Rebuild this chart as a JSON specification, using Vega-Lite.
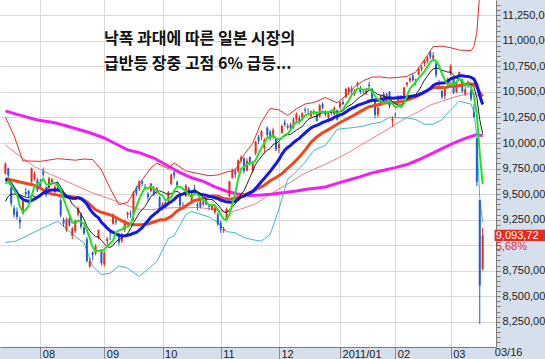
{
"$schema":"https://vega.github.io/schema/vega-lite/v6.json",
"width":496,"height":347,
"autosize":{"type":"none"},
"padding":{"left":0,"top":0,"right":49,"bottom":12},
"background":"#d6e0ec",
"config":{"view":{"fill":"white","stroke":null},"axis":{"labelFont":"Liberation Sans","labelFontSize":11,"labelColor":"#222"}},
"resolve":{"axis":{"x":"independent","y":"independent"}},
"datasets":{
"c":[
{"i":0,"O":9700,"H":9810,"L":9690,"C":9795,"a":9600,"b":9428,"m":9641},
{"i":1,"O":9750,"H":9760,"L":9660,"C":9685,"a":9630,"b":9477,"m":9629},
{"i":2,"O":9560,"H":9570,"L":9380,"C":9408,"a":9595,"b":9498,"m":9600},
{"i":3,"O":9360,"H":9390,"L":9270,"C":9300,"a":9545,"b":9501,"m":9553},
{"i":4,"O":9330,"H":9370,"L":9250,"C":9278,"a":9493,"b":9495,"m":9509},
{"i":5,"O":9250,"H":9280,"L":9160,"C":9220,"a":9378,"b":9489,"m":9474},
{"i":6,"O":9310,"H":9440,"L":9300,"C":9431,"a":9327,"b":9479,"m":9449},
{"i":7,"O":9520,"H":9560,"L":9480,"C":9503,"a":9346,"b":9471,"m":9437},
{"i":8,"O":9530,"H":9545,"L":9460,"C":9496,"a":9386,"b":9465,"m":9428},
{"i":9,"O":9620,"H":9760,"L":9610,"C":9753,"a":9481,"b":9487,"m":9437},
{"i":10,"O":9650,"H":9720,"L":9630,"C":9696,"a":9576,"b":9477,"m":9452},
{"i":11,"O":9640,"H":9660,"L":9520,"C":9537,"a":9597,"b":9462,"m":9470},
{"i":12,"O":9620,"H":9650,"L":9550,"C":9570,"a":9610,"b":9478,"m":9488},
{"i":13,"O":9720,"H":9760,"L":9670,"C":9694,"a":9650,"b":9518,"m":9510},
{"i":14,"O":9560,"H":9580,"L":9470,"C":9489,"a":9597,"b":9539,"m":9517},
{"i":15,"O":9560,"H":9670,"L":9540,"C":9653,"a":9589,"b":9582,"m":9536},
{"i":16,"O":9610,"H":9660,"L":9590,"C":9642,"a":9610,"b":9603,"m":9541},
{"i":17,"O":9520,"H":9590,"L":9500,"C":9572,"a":9610,"b":9610,"m":9541},
{"i":18,"O":9590,"H":9620,"L":9530,"C":9551,"a":9581,"b":9616,"m":9541},
{"i":19,"O":9440,"H":9460,"L":9270,"C":9292,"a":9542,"b":9570,"m":9529},
{"i":20,"O":9250,"H":9270,"L":9180,"C":9212,"a":9454,"b":9521,"m":9499},
{"i":21,"O":9150,"H":9270,"L":9130,"C":9253,"a":9376,"b":9493,"m":9478},
{"i":22,"O":9260,"H":9280,"L":9180,"C":9196,"a":9301,"b":9455,"m":9467},
{"i":23,"O":9090,"H":9180,"L":9060,"C":9161,"a":9223,"b":9402,"m":9460},
{"i":24,"O":9140,"H":9250,"L":9120,"C":9240,"a":9212,"b":9377,"m":9458},
{"i":25,"O":9300,"H":9380,"L":9280,"C":9362,"a":9242,"b":9348,"m":9465},
{"i":26,"O":9300,"H":9320,"L":9160,"C":9179,"a":9228,"b":9302,"m":9453},
{"i":27,"O":9170,"H":9190,"L":9100,"C":9116,"a":9212,"b":9256,"m":9433},
{"i":28,"O":9060,"H":9080,"L":8830,"C":8845,"a":9148,"b":9186,"m":9401},
{"i":29,"O":8790,"H":8880,"L":8780,"C":8845,"a":9069,"b":9141,"m":9356},
{"i":30,"O":8930,"H":8940,"L":8850,"C":8906,"a":8978,"b":9110,"m":9316},
{"i":31,"O":8920,"H":9010,"L":8900,"C":8991,"a":8941,"b":9084,"m":9289},
{"i":32,"O":9070,"H":9150,"L":9060,"C":9149,"a":8947,"b":9079,"m":9267},
{"i":33,"O":8950,"H":8960,"L":8800,"C":8824,"a":8943,"b":9046,"m":9224},
{"i":34,"O":8810,"H":8940,"L":8790,"C":8927,"a":8959,"b":9014,"m":9196},
{"i":35,"O":9040,"H":9080,"L":9000,"C":9062,"a":8991,"b":8984,"m":9166},
{"i":36,"O":9120,"H":9130,"L":9050,"C":9114,"a":9015,"b":8978,"m":9140},
{"i":37,"O":9210,"H":9310,"L":9200,"C":9301,"a":9046,"b":8996,"m":9126},
{"i":38,"O":9240,"H":9270,"L":9200,"C":9226,"a":9126,"b":9035,"m":9111},
{"i":39,"O":9110,"H":9120,"L":9000,"C":9024,"a":9145,"b":9052,"m":9097},
{"i":40,"O":9040,"H":9120,"L":9020,"C":9098,"a":9153,"b":9072,"m":9091},
{"i":41,"O":9150,"H":9250,"L":9130,"C":9239,"a":9178,"b":9096,"m":9090},
{"i":42,"O":9300,"H":9330,"L":9260,"C":9321,"a":9182,"b":9114,"m":9097},
{"i":43,"O":9310,"H":9340,"L":9270,"C":9299,"a":9196,"b":9161,"m":9104},
{"i":44,"O":9300,"H":9530,"L":9240,"C":9516,"a":9295,"b":9220,"m":9117},
{"i":45,"O":9560,"H":9580,"L":9480,"C":9509,"a":9377,"b":9265,"m":9125},
{"i":46,"O":9550,"H":9630,"L":9530,"C":9626,"a":9454,"b":9316,"m":9147},
{"i":47,"O":9620,"H":9640,"L":9580,"C":9602,"a":9510,"b":9346,"m":9171},
{"i":48,"O":9570,"H":9600,"L":9540,"C":9566,"a":9564,"b":9380,"m":9208},
{"i":49,"O":9500,"H":9520,"L":9430,"C":9471,"a":9555,"b":9425,"m":9239},
{"i":50,"O":9530,"H":9610,"L":9520,"C":9603,"a":9574,"b":9475,"m":9274},
{"i":51,"O":9550,"H":9580,"L":9480,"C":9495,"a":9547,"b":9501,"m":9299},
{"i":52,"O":9530,"H":9570,"L":9500,"C":9559,"a":9539,"b":9525,"m":9320},
{"i":53,"O":9470,"H":9480,"L":9350,"C":9369,"a":9499,"b":9532,"m":9347},
{"i":54,"O":9380,"H":9420,"L":9340,"C":9404,"a":9486,"b":9520,"m":9370},
{"i":55,"O":9420,"H":9430,"L":9360,"C":9381,"a":9442,"b":9508,"m":9387},
{"i":56,"O":9430,"H":9530,"L":9400,"C":9518,"a":9446,"b":9497,"m":9407},
{"i":57,"O":9600,"H":9700,"L":9590,"C":9691,"a":9473,"b":9506,"m":9426},
{"i":58,"O":9710,"H":9730,"L":9650,"C":9684,"a":9536,"b":9518,"m":9449},
{"i":59,"O":9620,"H":9630,"L":9560,"C":9588,"a":9572,"b":9529,"m":9477},
{"i":60,"O":9500,"H":9510,"L":9350,"C":9388,"a":9574,"b":9508,"m":9492},
{"i":61,"O":9400,"H":9420,"L":9350,"C":9403,"a":9551,"b":9499,"m":9500},
{"i":62,"O":9480,"H":9600,"L":9470,"C":9583,"a":9529,"b":9501,"m":9513},
{"i":63,"O":9560,"H":9570,"L":9480,"C":9500,"a":9492,"b":9514,"m":9523},
{"i":64,"O":9430,"H":9510,"L":9420,"C":9498,"a":9474,"b":9523,"m":9522},
{"i":65,"O":9550,"H":9590,"L":9520,"C":9539,"a":9505,"b":9539,"m":9524},
{"i":66,"O":9400,"H":9420,"L":9340,"C":9381,"a":9500,"b":9526,"m":9512},
{"i":67,"O":9430,"H":9450,"L":9360,"C":9376,"a":9459,"b":9494,"m":9500},
{"i":68,"O":9400,"H":9440,"L":9380,"C":9426,"a":9444,"b":9468,"m":9493},
{"i":69,"O":9470,"H":9490,"L":9390,"C":9401,"a":9425,"b":9450,"m":9490},
{"i":70,"O":9390,"H":9400,"L":9340,"C":9377,"a":9392,"b":9448,"m":9478},
{"i":71,"O":9350,"H":9400,"L":9340,"C":9387,"a":9393,"b":9447,"m":9473},
{"i":72,"O":9320,"H":9390,"L":9300,"C":9366,"a":9391,"b":9425,"m":9463},
{"i":73,"O":9300,"H":9320,"L":9190,"C":9202,"a":9347,"b":9395,"m":9455},
{"i":74,"O":9220,"H":9240,"L":9120,"C":9154,"a":9297,"b":9361,"m":9442},
{"i":75,"O":9140,"H":9180,"L":9120,"C":9159,"a":9254,"b":9323,"m":9431},
{"i":76,"O":9250,"H":9370,"L":9240,"C":9358,"a":9248,"b":9321,"m":9424},
{"i":77,"O":9480,"H":9630,"L":9470,"C":9625,"a":9300,"b":9346,"m":9420},
{"i":78,"O":9660,"H":9750,"L":9650,"C":9732,"a":9406,"b":9376,"m":9422},
{"i":79,"O":9720,"H":9750,"L":9660,"C":9694,"a":9514,"b":9405,"m":9428},
{"i":80,"O":9720,"H":9840,"L":9710,"C":9830,"a":9648,"b":9451,"m":9450},
{"i":81,"O":9830,"H":9880,"L":9800,"C":9861,"a":9748,"b":9498,"m":9473},
{"i":82,"O":9850,"H":9860,"L":9700,"C":9724,"a":9768,"b":9534,"m":9480},
{"i":83,"O":9730,"H":9850,"L":9720,"C":9827,"a":9787,"b":9596,"m":9496},
{"i":84,"O":9860,"H":9870,"L":9780,"C":9797,"a":9808,"b":9661,"m":9511},
{"i":85,"O":9730,"H":9820,"L":9710,"C":9811,"a":9804,"b":9726,"m":9525},
{"i":86,"O":9900,"H":10020,"L":9880,"C":10013,"a":9834,"b":9791,"m":9556},
{"i":87,"O":10060,"H":10080,"L":9990,"C":10022,"a":9894,"b":9831,"m":9589},
{"i":88,"O":10060,"H":10130,"L":10030,"C":10115,"a":9952,"b":9869,"m":9623},
{"i":89,"O":9950,"H":10050,"L":9900,"C":10030,"a":9998,"b":9903,"m":9654},
{"i":90,"O":10150,"H":10160,"L":10060,"C":10079,"a":10052,"b":9928,"m":9690},
{"i":91,"O":10110,"H":10130,"L":10020,"C":10039,"a":10057,"b":9946,"m":9722},
{"i":92,"O":10060,"H":10150,"L":10040,"C":10125,"a":10078,"b":9986,"m":9760},
{"i":93,"O":10040,"H":10050,"L":9920,"C":9937,"a":10042,"b":9997,"m":9797},
{"i":94,"O":9950,"H":10010,"L":9900,"C":9988,"a":10034,"b":10016,"m":9839},
{"i":95,"O":10100,"H":10180,"L":10090,"C":10168,"a":10051,"b":10052,"m":9889},
{"i":96,"O":10200,"H":10230,"L":10160,"C":10178,"a":10079,"b":10068,"m":9930},
{"i":97,"O":10150,"H":10190,"L":10130,"C":10167,"a":10088,"b":10083,"m":9957},
{"i":98,"O":10180,"H":10200,"L":10120,"C":10141,"a":10128,"b":10085,"m":9977},
{"i":99,"O":10160,"H":10250,"L":10140,"C":10232,"a":10177,"b":10105,"m":10004},
{"i":100,"O":10230,"H":10300,"L":10200,"C":10285,"a":10201,"b":10126,"m":10027},
{"i":101,"O":10240,"H":10270,"L":10190,"C":10212,"a":10207,"b":10143,"m":10045},
{"i":102,"O":10250,"H":10300,"L":10230,"C":10293,"a":10233,"b":10160,"m":10073},
{"i":103,"O":10330,"H":10350,"L":10290,"C":10316,"a":10268,"b":10198,"m":10098},
{"i":104,"O":10310,"H":10340,"L":10280,"C":10309,"a":10283,"b":10230,"m":10123},
{"i":105,"O":10260,"H":10320,"L":10250,"C":10311,"a":10288,"b":10244,"m":10148},
{"i":106,"O":10300,"H":10330,"L":10270,"C":10304,"a":10307,"b":10257,"m":10163},
{"i":107,"O":10300,"H":10310,"L":10210,"C":10216,"a":10291,"b":10262,"m":10173},
{"i":108,"O":10260,"H":10380,"L":10250,"C":10370,"a":10302,"b":10285,"m":10185},
{"i":109,"O":10380,"H":10400,"L":10330,"C":10346,"a":10309,"b":10296,"m":10201},
{"i":110,"O":10310,"H":10320,"L":10260,"C":10279,"a":10303,"b":10296,"m":10211},
{"i":111,"O":10250,"H":10300,"L":10200,"C":10292,"a":10301,"b":10304,"m":10224},
{"i":112,"O":10320,"H":10330,"L":10270,"C":10292,"a":10316,"b":10304,"m":10232},
{"i":113,"O":10280,"H":10360,"L":10270,"C":10344,"a":10311,"b":10306,"m":10252},
{"i":114,"O":10320,"H":10330,"L":10220,"C":10229,"a":10287,"b":10298,"m":10264},
{"i":115,"O":10350,"H":10410,"L":10330,"C":10398,"a":10311,"b":10307,"m":10276},
{"i":116,"O":10400,"H":10430,"L":10370,"C":10380,"a":10329,"b":10315,"m":10286},
{"i":117,"O":10450,"H":10540,"L":10440,"C":10529,"a":10376,"b":10346,"m":10304},
{"i":118,"O":10500,"H":10550,"L":10470,"C":10541,"a":10415,"b":10363,"m":10324},
{"i":119,"O":10530,"H":10560,"L":10480,"C":10510,"a":10472,"b":10379,"m":10338},
{"i":120,"O":10480,"H":10530,"L":10460,"C":10512,"a":10494,"b":10403,"m":10350},
{"i":121,"O":10570,"H":10600,"L":10550,"C":10589,"a":10536,"b":10432,"m":10368},
{"i":122,"O":10530,"H":10560,"L":10480,"C":10499,"a":10530,"b":10453,"m":10379},
{"i":123,"O":10500,"H":10520,"L":10470,"C":10502,"a":10522,"b":10469,"m":10388},
{"i":124,"O":10480,"H":10540,"L":10470,"C":10518,"a":10524,"b":10498,"m":10398},
{"i":125,"O":10570,"H":10600,"L":10520,"C":10557,"a":10533,"b":10514,"m":10411},
{"i":126,"O":10530,"H":10540,"L":10420,"C":10437,"a":10503,"b":10519,"m":10417},
{"i":127,"O":10410,"H":10420,"L":10240,"C":10274,"a":10458,"b":10494,"m":10420},
{"i":128,"O":10280,"H":10360,"L":10250,"C":10345,"a":10426,"b":10474,"m":10419},
{"i":129,"O":10380,"H":10470,"L":10360,"C":10464,"a":10415,"b":10470,"m":10425},
{"i":130,"O":10480,"H":10500,"L":10390,"C":10401,"a":10384,"b":10459,"m":10431},
{"i":131,"O":10400,"H":10490,"L":10390,"C":10478,"a":10392,"b":10448,"m":10440},
{"i":132,"O":10500,"H":10510,"L":10340,"C":10360,"a":10410,"b":10434,"m":10444},
{"i":133,"O":10220,"H":10260,"L":10160,"C":10238,"a":10388,"b":10407,"m":10438},
{"i":134,"O":10280,"H":10300,"L":10250,"C":10274,"a":10350,"b":10383,"m":10441},
{"i":135,"O":10400,"H":10470,"L":10390,"C":10457,"a":10361,"b":10373,"m":10444},
{"i":136,"O":10450,"H":10470,"L":10410,"C":10431,"a":10352,"b":10372,"m":10446},
{"i":137,"O":10460,"H":10550,"L":10440,"C":10543,"a":10389,"b":10399,"m":10447},
{"i":138,"O":10570,"H":10600,"L":10550,"C":10592,"a":10459,"b":10424,"m":10449},
{"i":139,"O":10610,"H":10650,"L":10590,"C":10635,"a":10532,"b":10441,"m":10456},
{"i":140,"O":10660,"H":10680,"L":10600,"C":10617,"a":10564,"b":10463,"m":10461},
{"i":141,"O":10620,"H":10630,"L":10560,"C":10606,"a":10599,"b":10475,"m":10462},
{"i":142,"O":10670,"H":10740,"L":10660,"C":10725,"a":10635,"b":10512,"m":10473},
{"i":143,"O":10720,"H":10760,"L":10700,"C":10746,"a":10666,"b":10563,"m":10485},
{"i":144,"O":10780,"H":10820,"L":10750,"C":10808,"a":10700,"b":10616,"m":10500},
{"i":145,"O":10800,"H":10850,"L":10780,"C":10836,"a":10744,"b":10654,"m":10514},
{"i":146,"O":10890,"H":10900,"L":10820,"C":10842,"a":10791,"b":10695,"m":10534},
{"i":147,"O":10830,"H":10890,"L":10800,"C":10858,"a":10818,"b":10727,"m":10563},
{"i":148,"O":10780,"H":10790,"L":10640,"C":10665,"a":10802,"b":10734,"m":10579},
{"i":149,"O":10590,"H":10620,"L":10550,"C":10579,"a":10756,"b":10728,"m":10585},
{"i":150,"O":10510,"H":10520,"L":10430,"C":10452,"a":10679,"b":10712,"m":10588},
{"i":151,"O":10460,"H":10540,"L":10430,"C":10527,"a":10616,"b":10704,"m":10590},
{"i":152,"O":10570,"H":10640,"L":10550,"C":10624,"a":10569,"b":10694,"m":10603},
{"i":153,"O":10680,"H":10770,"L":10660,"C":10754,"a":10587,"b":10695,"m":10629},
{"i":154,"O":10640,"H":10650,"L":10480,"C":10492,"a":10570,"b":10663,"m":10640},
{"i":155,"O":10500,"H":10600,"L":10490,"C":10586,"a":10597,"b":10638,"m":10646},
{"i":156,"O":10650,"H":10700,"L":10620,"C":10693,"a":10630,"b":10623,"m":10659},
{"i":157,"O":10620,"H":10630,"L":10490,"C":10505,"a":10606,"b":10588,"m":10658},
{"i":158,"O":10480,"H":10550,"L":10460,"C":10525,"a":10560,"b":10574,"m":10654},
{"i":159,"O":10600,"H":10610,"L":10540,"C":10589,"a":10580,"b":10575,"m":10652},
{"i":160,"O":10520,"H":10530,"L":10410,"C":10434,"a":10549,"b":10573,"m":10643},
{"i":161,"O":10300,"H":10380,"L":10250,"C":10254,"a":10461,"b":10546,"m":10625},
{"i":162,"O":10044,"H":10049,"L":9578,"C":9620,"a":10284,"b":10445,"m":10570},
{"i":163,"O":9441,"H":9441,"L":8227,"C":8605,"a":9900,"b":10230,"m":10463},
{"i":164,"O":8770,"H":9170,"L":8750,"C":9094,"a":9601,"b":10091,"m":10377}
],
"m30":[{"i":0,"v":9652},{"i":5,"v":9619},{"i":10,"v":9586},{"i":12,"v":9559},{"i":14,"v":9519},{"i":16,"v":9500},{"i":18,"v":9490},{"i":20,"v":9475},{"i":22,"v":9477},{"i":24,"v":9470},{"i":26,"v":9461},{"i":28,"v":9422},{"i":29,"v":9399},{"i":31,"v":9346},{"i":33,"v":9322},{"i":35,"v":9305},{"i":37,"v":9287},{"i":39,"v":9254},{"i":41,"v":9224},{"i":43,"v":9203},{"i":45,"v":9199},{"i":47,"v":9199},{"i":49,"v":9206},{"i":51,"v":9227},{"i":53,"v":9246},{"i":55,"v":9252},{"i":57,"v":9283},{"i":59,"v":9335},{"i":61,"v":9365},{"i":63,"v":9402},{"i":65,"v":9437},{"i":67,"v":9449},{"i":69,"v":9468},{"i":71,"v":9482},{"i":73,"v":9480},{"i":75,"v":9457},{"i":77,"v":9449},{"i":79,"v":9461},{"i":81,"v":9481},{"i":83,"v":9502},{"i":85,"v":9529},{"i":87,"v":9557},{"i":89,"v":9586},{"i":91,"v":9630},{"i":93,"v":9663},{"i":95,"v":9700},{"i":97,"v":9753},{"i":99,"v":9804},{"i":101,"v":9862},{"i":103,"v":9930},{"i":105,"v":10007},{"i":107,"v":10059},{"i":109,"v":10101},{"i":111,"v":10131},{"i":113,"v":10167},{"i":115,"v":10201},{"i":117,"v":10230},{"i":119,"v":10260},{"i":121,"v":10293},{"i":123,"v":10324},{"i":125,"v":10355},{"i":127,"v":10367},{"i":129,"v":10382},{"i":131,"v":10395},{"i":133,"v":10394},{"i":135,"v":10398},{"i":137,"v":10413},{"i":139,"v":10430},{"i":141,"v":10452},{"i":143,"v":10480},{"i":145,"v":10514},{"i":147,"v":10540},{"i":149,"v":10546},{"i":151,"v":10542},{"i":153,"v":10555},{"i":155,"v":10555},{"i":157,"v":10571},{"i":159,"v":10581},{"i":161,"v":10575},{"i":162,"v":10550},{"i":163,"v":10496},{"i":164,"v":10457}],
"m60":[{"i":0,"v":9980},{"i":5,"v":9870},{"i":10,"v":9770},{"i":15,"v":9700},{"i":20,"v":9640},{"i":25,"v":9573},{"i":30,"v":9511},{"i":35,"v":9462},{"i":40,"v":9410},{"i":45,"v":9354},{"i":50,"v":9347},{"i":54,"v":9361},{"i":58,"v":9367},{"i":62,"v":9365},{"i":66,"v":9370},{"i":70,"v":9356},{"i":74,"v":9336},{"i":78,"v":9327},{"i":82,"v":9363},{"i":86,"v":9405},{"i":90,"v":9480},{"i":94,"v":9550},{"i":98,"v":9616},{"i":102,"v":9689},{"i":106,"v":9743},{"i":110,"v":9793},{"i":114,"v":9848},{"i":118,"v":9908},{"i":122,"v":9977},{"i":126,"v":10045},{"i":130,"v":10111},{"i":134,"v":10181},{"i":138,"v":10250},{"i":142,"v":10308},{"i":146,"v":10371},{"i":150,"v":10410},{"i":154,"v":10448},{"i":158,"v":10476},{"i":160,"v":10484},{"i":162,"v":10474},{"i":164,"v":10425}],
"m120":[{"i":0,"v":10315},{"i":4,"v":10280},{"i":11,"v":10225},{"i":17,"v":10198},{"i":22,"v":10159},{"i":29,"v":10100},{"i":34,"v":10049},{"i":38,"v":9990},{"i":42,"v":9932},{"i":46,"v":9905},{"i":51,"v":9853},{"i":55,"v":9790},{"i":60,"v":9710},{"i":64,"v":9660},{"i":68,"v":9625},{"i":72,"v":9570},{"i":76,"v":9528},{"i":80,"v":9500},{"i":84,"v":9486},{"i":88,"v":9490},{"i":92,"v":9500},{"i":96,"v":9515},{"i":100,"v":9531},{"i":104,"v":9550},{"i":108,"v":9562},{"i":110,"v":9570},{"i":114,"v":9605},{"i":118,"v":9638},{"i":122,"v":9671},{"i":126,"v":9708},{"i":130,"v":9734},{"i":134,"v":9759},{"i":138,"v":9789},{"i":142,"v":9836},{"i":146,"v":9888},{"i":150,"v":9945},{"i":154,"v":9999},{"i":158,"v":10046},{"i":162,"v":10082},{"i":164,"v":10071}],
"bbu":[{"i":0,"v":10255},{"i":3,"v":10071},{"i":6,"v":9826},{"i":12,"v":9820},{"i":18,"v":9847},{"i":24,"v":9832},{"i":27,"v":9843},{"i":30,"v":9838},{"i":33,"v":9736},{"i":36,"v":9556},{"i":39,"v":9397},{"i":42,"v":9419},{"i":46,"v":9601},{"i":50,"v":9757},{"i":52,"v":9802},{"i":56,"v":9749},{"i":58,"v":9805},{"i":62,"v":9727},{"i":64,"v":9714},{"i":70,"v":9680},{"i":73,"v":9687},{"i":76,"v":9716},{"i":79,"v":9734},{"i":82,"v":9886},{"i":85,"v":9997},{"i":88,"v":10207},{"i":91,"v":10338},{"i":94,"v":10325},{"i":97,"v":10269},{"i":100,"v":10335},{"i":103,"v":10382},{"i":106,"v":10397},{"i":110,"v":10445},{"i":114,"v":10394},{"i":117,"v":10464},{"i":120,"v":10548},{"i":123,"v":10610},{"i":126,"v":10645},{"i":129,"v":10647},{"i":132,"v":10636},{"i":135,"v":10642},{"i":138,"v":10653},{"i":141,"v":10694},{"i":144,"v":10816},{"i":147,"v":10943},{"i":150,"v":10948},{"i":153,"v":10933},{"i":156,"v":10909},{"i":160,"v":10905},{"i":161,"v":10945},{"i":162,"v":11082},{"i":163,"v":11465},{"i":164,"v":11529}],
"bbl":[{"i":0,"v":9027},{"i":3,"v":9035},{"i":6,"v":9072},{"i":12,"v":9156},{"i":18,"v":9235},{"i":24,"v":9084},{"i":27,"v":9023},{"i":30,"v":8794},{"i":33,"v":8712},{"i":36,"v":8724},{"i":39,"v":8797},{"i":42,"v":8775},{"i":46,"v":8693},{"i":50,"v":8790},{"i":52,"v":8838},{"i":56,"v":9065},{"i":58,"v":9093},{"i":62,"v":9299},{"i":64,"v":9330},{"i":70,"v":9276},{"i":73,"v":9223},{"i":76,"v":9132},{"i":79,"v":9122},{"i":82,"v":9074},{"i":85,"v":9053},{"i":88,"v":9039},{"i":91,"v":9106},{"i":94,"v":9353},{"i":97,"v":9645},{"i":100,"v":9719},{"i":103,"v":9814},{"i":106,"v":9929},{"i":110,"v":9977},{"i":114,"v":10134},{"i":117,"v":10144},{"i":120,"v":10152},{"i":123,"v":10166},{"i":126,"v":10189},{"i":129,"v":10203},{"i":132,"v":10252},{"i":135,"v":10246},{"i":138,"v":10245},{"i":141,"v":10230},{"i":144,"v":10184},{"i":147,"v":10183},{"i":150,"v":10228},{"i":153,"v":10325},{"i":156,"v":10409},{"i":160,"v":10381},{"i":161,"v":10305},{"i":162,"v":10058},{"i":163,"v":9461},{"i":164,"v":9225}],
"one":[{"k":1}]
},
"layer":[
{"data":{"name":"m60"},"mark":{"type":"line","color":"#f27b88","strokeWidth":1},
 "encoding":{"x":{"field":"i","type":"quantitative","scale":{"domain":[-0.13,166.87],"nice":false,"zero":false},
   "axis":{"values":[12,34,54,74,94,115,134,153],"title":null,"grid":true,"gridColor":"#d9d9d9","domainColor":"#7a7a7a","tickColor":"#8a8a8a","tickSize":12,"labelAlign":"left","labelBaseline":"top","labelPadding":-11,"labelOffset":2,"labelOverlap":false,
   "labelExpr":"datum.value==12?'08':datum.value==34?'09':datum.value==54?'10':datum.value==74?'11':datum.value==94?'12':datum.value==115?'2011/01':datum.value==134?'02':'03'"}},
  "y":{"field":"v","type":"quantitative","scale":{"domain":[8003,11400],"nice":false,"zero":false},
   "axis":{"orient":"right","title":null,"labelOverlap":false,
   "values":[8050,8100,8150,8200,8250,8300,8350,8400,8450,8500,8550,8600,8650,8700,8750,8800,8850,8900,8950,9000,9050,9100,9150,9200,9250,9300,9350,9400,9450,9500,9550,9600,9650,9700,9750,9800,9850,9900,9950,10000,10050,10100,10150,10200,10250,10300,10350,10400,10450,10500,10550,10600,10650,10700,10750,10800,10850,10900,10950,11000,11050,11100,11150,11200,11250,11300,11350],
   "grid":true,"gridColor":{"condition":{"test":"datum.value % 250 === 0","value":"#d9d9d9"},"value":"transparent"},
   "domainColor":"#7a7a7a","tickColor":"#7a7a7a","tickSize":4,
   "labelPadding":2,
   "labelExpr":"(datum.value % 250 !== 0 || datum.value == 9000) ? '' : replace(format(datum.value,',.2f'),'.',',')"}}}},
{"data":{"name":"m120"},"mark":{"type":"line","color":"#f21ef2","strokeWidth":3},
 "encoding":{"x":{"field":"i","type":"quantitative","axis":null},"y":{"field":"v","type":"quantitative","axis":null}}},
{"data":{"name":"bbu"},"mark":{"type":"line","color":"#e82a2a","strokeWidth":1},
 "encoding":{"x":{"field":"i","type":"quantitative","axis":null},"y":{"field":"v","type":"quantitative","axis":null}}},
{"data":{"name":"bbl"},"mark":{"type":"line","color":"#3cb9c9","strokeWidth":1},
 "encoding":{"x":{"field":"i","type":"quantitative","axis":null},"y":{"field":"v","type":"quantitative","axis":null}}},
{"data":{"name":"c"},"mark":{"type":"rule","strokeWidth":1},
 "encoding":{"x":{"field":"i","type":"quantitative","axis":null},"y":{"field":"L","type":"quantitative","axis":null},"y2":{"field":"H"},
  "color":{"condition":{"test":"datum.C>=datum.O","value":"#e8291c"},"value":"#1f5fcf"}}},
{"data":{"name":"c"},"mark":{"type":"bar","width":2},
 "encoding":{"x":{"field":"i","type":"quantitative","axis":null},"y":{"field":"O","type":"quantitative","axis":null},"y2":{"field":"C"},
  "color":{"condition":{"test":"datum.C>=datum.O","value":"#e8291c"},"value":"#1f5fcf"}}},
{"data":{"name":"m30"},"mark":{"type":"line","color":"#f2471c","strokeWidth":3},
 "encoding":{"x":{"field":"i","type":"quantitative","axis":null},"y":{"field":"v","type":"quantitative","axis":null}}},
{"data":{"name":"c"},"mark":{"type":"line","color":"#1018ee","strokeWidth":3},
 "encoding":{"x":{"field":"i","type":"quantitative","axis":null},"y":{"field":"m","type":"quantitative","axis":null}}},
{"data":{"name":"c"},"mark":{"type":"line","color":"#222222","strokeWidth":1},
 "encoding":{"x":{"field":"i","type":"quantitative","axis":null},"y":{"field":"b","type":"quantitative","axis":null}}},
{"data":{"name":"c"},"mark":{"type":"line","color":"#20e020","strokeWidth":2},
 "encoding":{"x":{"field":"i","type":"quantitative","axis":null},"y":{"field":"a","type":"quantitative","axis":null}}},
{"data":{"name":"one"},"mark":{"type":"text","align":"left","baseline":"top","font":"Noto Sans CJK KR","fontWeight":"bold","fontSize":16,"lineHeight":25,"color":"#111111"},
 "encoding":{"x":{"datum":33.9,"axis":null},"y":{"datum":11095,"axis":null},"text":{"value":["낙폭 과대에 따른 일본 시장의","급반등 장중 고점 6% 급등..."]}}},
{"data":{"name":"one"},"mark":{"type":"rect","color":"#e8291c"},
 "encoding":{"x":{"datum":168.1,"axis":null},"x2":{"datum":190},"y":{"datum":9150,"axis":null},"y2":{"datum":9040}}},
{"data":{"name":"one"},"mark":{"type":"text","align":"left","baseline":"middle","font":"Liberation Sans","fontSize":11,"color":"white"},
 "encoding":{"x":{"datum":168.5,"axis":null},"y":{"datum":9094,"axis":null},"text":{"value":"9,093,72"}}},
{"data":{"name":"one"},"mark":{"type":"text","align":"left","baseline":"middle","font":"Liberation Sans","fontSize":11,"color":"#e8291c"},
 "encoding":{"x":{"datum":168.5,"axis":null},"y":{"datum":8982,"axis":null},"text":{"value":"5,68%"}}},
{"data":{"name":"one"},"mark":{"type":"text","align":"left","baseline":"middle","font":"Liberation Sans","fontSize":11,"color":"#222222"},
 "encoding":{"x":{"datum":168.2,"axis":null},"y":{"datum":7945,"axis":null},"text":{"value":"03/16"}}}
]
}
